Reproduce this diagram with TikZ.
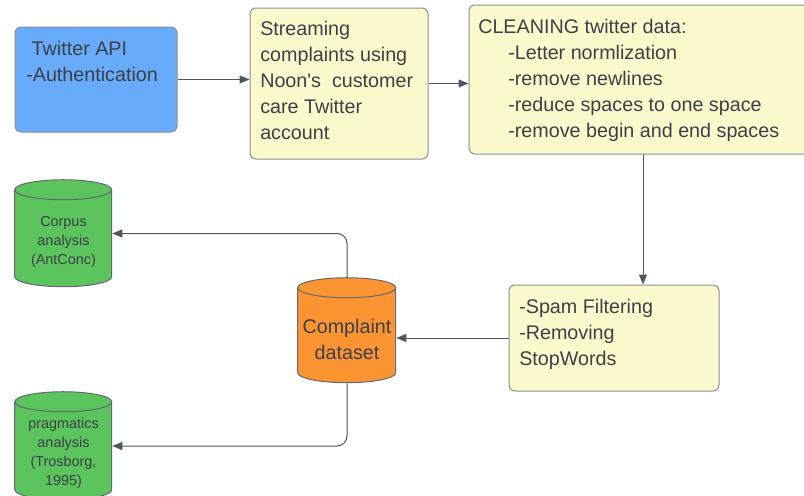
\documentclass[tikz,border=0pt]{standalone}
\usepackage{fontspec}
\setmainfont{Liberation Sans}[Ligatures=TeXOff]
\usepackage{xcolor}
\usepackage{tikz}
\usetikzlibrary{arrows.meta,positioning}

\definecolor{apiblue}{RGB}{105,171,251}
\definecolor{stepyellow}{RGB}{251,250,205}
\definecolor{dataorange}{RGB}{252,148,50}
\definecolor{anagreen}{RGB}{91,196,93}
\definecolor{boxline}{RGB}{138,143,150}
\definecolor{canline}{RGB}{100,106,114}
\definecolor{txtgray}{RGB}{60,64,72}
\definecolor{linkgray}{RGB}{80,86,96}

% can outline round an (empty) node: name, fill, width, height (in px)
\newcommand{\dbcan}[4]{%
  \draw [canline,line width=0.75pt,fill=#2] (#1.north west) ++(0,10) coordinate (#1-tl)
    -- ++(0,#4-20) arc[start angle=180,end angle=0,x radius=#3/2,y radius=10]
    -- ++(0,-#4+20) arc[start angle=0,end angle=-180,x radius=#3/2,y radius=10] -- cycle;
  \draw [canline,line width=0.75pt] (#1-tl) arc[start angle=180,end angle=0,x radius=#3/2,y radius=10];
}

\begin{document}
\begin{tikzpicture}[x=0.75pt,y=0.75pt,yscale=-1,xscale=1,
  procbox/.style={draw=boxline,line width=0.75pt,rounded corners=4.5pt,inner sep=0pt},
  canbox/.style={inner sep=0pt},
  bigtxt/.style={inner sep=0pt,align=left,text=txtgray,font=\fontsize{14.8}{19.5}\selectfont},
  smalltxt/.style={inner sep=0pt,align=center,text=txtgray,font=\fontsize{10.8}{14.3}\selectfont},
  link/.style={draw=linkgray,line width=0.75pt,rounded corners=7.5pt,-{Triangle[length=7.5pt,width=6pt]}}]
\useasboundingbox (0,0) rectangle (804,496);

%Shape: Rectangle [api]
\node [procbox,fill=apiblue,minimum width=121.5pt,minimum height=78.75pt] (api) at (96,79.5) {};
%Shape: Rectangle [stream]
\node [procbox,fill=stepyellow,minimum width=133.5pt,minimum height=113.25pt] (stream) at (339,83.5) {};
%Shape: Rectangle [clean]
\node [procbox,fill=stepyellow,minimum width=261pt,minimum height=111.75pt] (clean) at (643,79.5) {};
%Shape: Rectangle [spam]
\node [procbox,fill=stepyellow,minimum width=157.5pt,minimum height=79.5pt] (spam) at (614,338) {};
%Shape: Can [data]
\node [canbox,minimum width=73.5pt,minimum height=78.75pt] (data) at (347,330.5) {};
\dbcan{data}{dataorange}{98}{105}
%Shape: Can [corpus]
\node [canbox,minimum width=72.75pt,minimum height=80.25pt] (corpus) at (63.5,233.5) {};
\dbcan{corpus}{anagreen}{97}{107}
%Shape: Can [prag]
\node [canbox,minimum width=72.75pt,minimum height=81pt] (prag) at (63.5,446) {};
\dbcan{prag}{anagreen}{97}{108}

% Text Node
\node [bigtxt,anchor=north west] (apitxt) at (26,41) {\hspace*{4.1pt}Twitter API\\-Authentication};
% Text Node
\node [bigtxt,anchor=north west] (streamtxt) at (260,21) {Streaming\\complaints using\\Noon's~ customer\\care Twitter\\account};
% Text Node
\node [bigtxt,anchor=north west] (cleantxt) at (478,19) {CLEANING twitter data:\\
  \hspace*{22.5pt}-Letter normlization\\
  \hspace*{22.5pt}-remove newlines\\
  \hspace*{22.5pt}-reduce spaces to one space\\
  \hspace*{22.5pt}-remove begin and end spaces};
% Text Node
\node [bigtxt,anchor=north west] (spamtxt) at (519,299) {-Spam Filtering\\-Removing\\StopWords};
% Text Node
\node [bigtxt,align=center] (datatxt) at (347,339) {Complaint\\dataset};
% Text Node
\node [smalltxt] (corpustxt) at (63.5,242) {Corpus\\analysis\\(AntConc)};
% Text Node
\node [smalltxt] (pragtxt) at (63.5,453.5) {pragmatics\\analysis\\(Trosborg,\\1995)};

% Connectors
\draw [link] (api.east) -- (api.east -| stream.west);
\draw [link] (stream.east) -- (stream.east -| clean.west);
\draw [link] (clean.south) -- (clean.south |- spam.north);
\draw [link] (spam.west) -- (spam.west -| data.east);
\draw [link] (data.north) |- (corpus.east);
\draw [link] (data.south) |- (prag.east);

\end{tikzpicture}
\end{document}
